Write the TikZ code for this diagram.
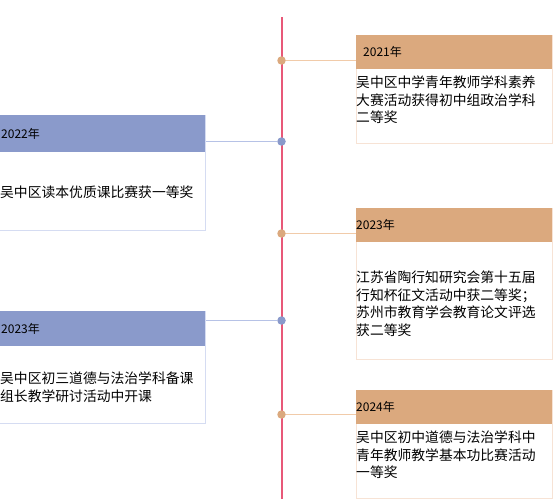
\documentclass[tikz,border=0pt]{standalone}
\usepackage{fontspec}
\setmainfont{Noto Sans CJK SC}
\definecolor{pinkaxis}{RGB}{232,88,120}
\definecolor{org}{HTML}{DBA97E}
\definecolor{orgline}{HTML}{F1CBA9}
\definecolor{orgborder}{HTML}{F7E3D5}
\definecolor{blu}{HTML}{8A9ACB}
\definecolor{bluline}{HTML}{B6C2E6}
\definecolor{bluborder}{HTML}{D5DCF2}
\tikzset{
  dotorg/.style={circle,fill=org,inner sep=0,minimum size=8.5pt},
  dotblu/.style={circle,fill=blu,inner sep=0,minimum size=8.5pt},
  bodyorg/.style={draw=orgborder,line width=1pt,fill=white,inner sep=0,anchor=north west},
  bodyblu/.style={draw=bluborder,line width=1pt,fill=white,inner sep=0,anchor=north west},
  headorg/.style={fill=org,inner sep=0,anchor=north west},
  headblu/.style={fill=blu,inner sep=0,anchor=north west},
  yeartxt/.style={font=\fontsize{12}{14}\selectfont,inner sep=0,anchor=west},
  bodytxt/.style={font=\fontsize{13.8}{17.5}\selectfont,inner sep=0,anchor=north west,align=left},
  conorg/.style={draw=orgline,line width=1pt},
  conblu/.style={draw=bluline,line width=1pt},
  axisline/.style={draw=pinkaxis,line width=2pt},
}
\begin{document}
\begin{tikzpicture}[x=1pt,y=-1pt]
\useasboundingbox (0,0) rectangle (553,499);
% boxes right
\node[bodyorg,minimum width=196pt,minimum height=108pt] (b1) at (356,35) {};
\node[headorg,minimum width=196pt,minimum height=34pt] (h1) at (356,35) {};
\node[bodyorg,minimum width=196pt,minimum height=151pt] (b3) at (356,208) {};
\node[headorg,minimum width=196pt,minimum height=34pt] (h3) at (356,208) {};
\node[bodyorg,minimum width=196pt,minimum height=108pt] (b5) at (356,390) {};
\node[headorg,minimum width=196pt,minimum height=34pt] (h5) at (356,390) {};
% boxes left
\node[bodyblu,minimum width=215pt,minimum height=115pt] (b2) at (-10,115) {};
\node[headblu,minimum width=215pt,minimum height=37pt] (h2) at (-10,115) {};
\node[bodyblu,minimum width=215pt,minimum height=112pt] (b4) at (-10,311) {};
\node[headblu,minimum width=215pt,minimum height=35pt] (h4) at (-10,311) {};
% axis
\coordinate (axtop) at (281.5,17);
\coordinate (axbot) at (281.5,499);
\draw[axisline] (axtop) -- (axbot);
% dots
\node[dotorg] (d1) at (281.5,60.5) {};
\node[dotblu] (d2) at (281.5,141.5) {};
\node[dotorg] (d3) at (281.5,233.5) {};
\node[dotblu] (d4) at (281.5,320.5) {};
\node[dotorg] (d5) at (281.5,414.5) {};
% connectors
\draw[conorg] (d1.east) -- (d1.east -| b1.west);
\draw[conblu] (d2.west) -- (d2.west -| b2.east);
\draw[conorg] (d3.east) -- (d3.east -| b3.west);
\draw[conblu] (d4.west) -- (d4.west -| b4.east);
\draw[conorg] (d5.east) -- (d5.east -| b5.west);
% texts
\node[yeartxt] (y1) at (363,52) {2021年};
\node[bodytxt] (t1) at (356,76) {吴中区中学青年教师学科素养\\大赛活动获得初中组政治学科\\二等奖};
\node[yeartxt] (y2) at (1,133.5) {2022年};
\node[bodytxt] (t2) at (0,186) {吴中区读本优质课比赛获一等奖};
\node[yeartxt] (y3) at (356,224.5) {2023年};
\node[bodytxt] (t3) at (356,271) {江苏省陶行知研究会第十五届\\行知杯征文活动中获二等奖；\\苏州市教育学会教育论文评选\\获二等奖};
\node[yeartxt] (y4) at (1,329) {2023年};
\node[bodytxt] (t4) at (0,372) {吴中区初三道德与法治学科备课\\组长教学研讨活动中开课};
\node[yeartxt] (y5) at (356,407) {2024年};
\node[bodytxt] (t5) at (356,431) {吴中区初中道德与法治学科中\\青年教师教学基本功比赛活动\\一等奖};
\end{tikzpicture}
\end{document}
